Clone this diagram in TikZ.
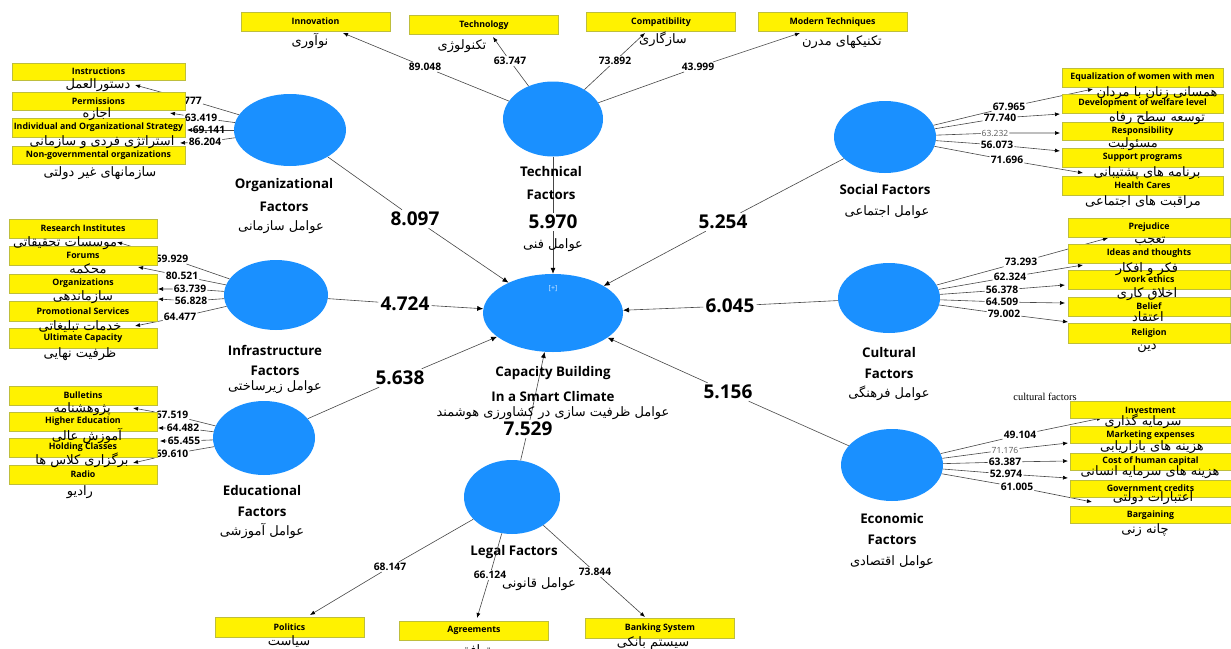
\documentclass[tikz,border=0pt]{standalone}
\usepackage{fontspec}
\setmainfont{Open Sans}
\newfontfamily\arabicfont[Script=Arabic]{DejaVu Sans}
\newfontfamily\serifface{Liberation Serif}
\TeXXeTstate=1
\usetikzlibrary{arrows.meta,shapes.geometric}
\newcommand{\pers}[1]{{\arabicfont\beginR #1\endR}}
\definecolor{facblue}{RGB}{26,144,255}
\definecolor{boxedge}{RGB}{190,190,60}
\definecolor{linegray}{RGB}{70,70,70}
\definecolor{numgray}{RGB}{90,90,90}
\tikzset{
  fac/.style={ellipse, fill=facblue, draw=none, inner sep=0pt},
  ibox/.style={rectangle, fill=yellow, draw=boxedge, line width=0.6pt, minimum width=149pt, minimum height=19pt, inner sep=0pt, font=\bfseries\fontsize{8.8}{10}\selectfont},
  num/.style={font=\bfseries\fontsize{10.3}{12}\selectfont, inner sep=1pt},
  gnum/.style={font=\fontsize{8.5}{10}\selectfont, text=numgray, inner sep=1pt},
  big/.style={font=\bfseries\fontsize{19}{22}\selectfont, inner sep=2pt},
  flab/.style={font=\bfseries\fontsize{13.3}{16}\selectfont, inner sep=0pt},
  fa/.style={font=\fontsize{13}{15}\selectfont, inner sep=0pt},
  conn/.style={draw=linegray, line width=0.6pt, -{Latex[length=5pt,width=4pt,color=black]}},
  main/.style={draw=linegray, line width=0.6pt, -{Latex[length=6pt,width=5pt,color=black]}}
}
\begin{document}
\begin{tikzpicture}[x=1pt,y=-1pt]
\useasboundingbox (0,0) rectangle (1231,648);

% ---------- factor ellipses ----------
\node[fac, minimum width=140pt, minimum height=78pt] (cb) at (553,313) {};
\node[fac, minimum width=100pt, minimum height=75pt] (tech) at (553,119) {};
\node[fac, minimum width=112pt, minimum height=72pt] (org) at (290,130) {};
\node[fac, minimum width=102pt, minimum height=72pt] (soc) at (885,137) {};
\node[fac, minimum width=104pt, minimum height=70pt] (infra) at (276,295) {};
\node[fac, minimum width=102pt, minimum height=70pt] (cult) at (889,298) {};
\node[fac, minimum width=102pt, minimum height=74pt] (edu) at (264,438) {};
\node[fac, minimum width=102pt, minimum height=72pt] (econ) at (892,465) {};
\node[fac, minimum width=96pt, minimum height=74pt] (legal) at (512,497) {};
\node[font=\fontsize{7}{8}\selectfont, text=white!80!facblue] (plus) at (553,289) {[+]};

% ---------- main path coefficients ----------
\node[big] (w1) at (415,219) {8.097};
\node[big] (w2) at (553,222) {5.970};
\node[big] (w3) at (723,222) {5.254};
\node[big] (w4) at (405,304) {4.724};
\node[big] (w5) at (730,306) {6.045};
\node[big] (w6) at (400,378) {5.638};
\node[big] (w7) at (728,392) {5.156};
\node[big] (w8) at (528,429) {7.529};

\draw[main] (org) -- (w1) -- (cb);
\draw[main] (tech) -- (w2) -- (cb);
\draw[main] (soc) -- (w3) -- (cb);
\draw[main] (infra) -- (w4) -- (cb);
\draw[main] (cult) -- (w5) -- (cb);
\draw[main] (edu) -- (w6) -- (cb);
\draw[main] (econ) -- (w7) -- (cb);
\draw[main] (legal) -- (w8) -- (cb);

% ---------- factor labels ----------
\node[flab] (lcb1) at (553,373) {Capacity Building};
\node[flab] (lcb2) at (553,397) {In a Smart Climate};
\node[fa] (lcb3) at (553,413) {\pers{عوامل ظرفیت سازی در کشاورزی هوشمند}};
\node[flab] (ltech1) at (551,172) {Technical};
\node[flab] (ltech2) at (551,195) {Factors};
\node[fa] (ltech3) at (553,245) {\pers{عوامل فنی}};
\node[flab] (lorg1) at (284,185) {Organizational};
\node[flab] (lorg2) at (284,207) {Factors};
\node[fa] (lorg3) at (281,227) {\pers{عوامل سازمانی}};
\node[flab] (lsoc1) at (885,190) {Social Factors};
\node[fa] (lsoc2) at (887,212) {\pers{عوامل اجتماعی}};
\node[flab] (linf1) at (275,350) {Infrastructure};
\node[flab] (linf2) at (275,371) {Factors};
\node[fa] (linf3) at (275,387) {\pers{عوامل زیرساختی}};
\node[flab] (lcul1) at (889,353) {Cultural};
\node[flab] (lcul2) at (889,374) {Factors};
\node[fa] (lcul3) at (889,393) {\pers{عوامل فرهنگی}};
\node[flab] (ledu1) at (262,491) {Educational};
\node[flab] (ledu2) at (262,512) {Factors};
\node[fa] (ledu3) at (262,531) {\pers{عوامل آموزشی}};
\node[flab] (leco1) at (892,519) {Economic};
\node[flab] (leco2) at (892,540) {Factors};
\node[fa] (leco3) at (892,562) {\pers{عوامل اقتصادی}};
\node[flab] (lleg1) at (514,552) {Legal Factors};
\node[fa] (lleg2) at (539,584) {\pers{عوامل قانونی}};

% ---------- technical indicators ----------
\node[num] (n1) at (425,67) {89.048}; \coordinate (t1) at (343,33);
\node[num] (n2) at (510,61) {63.747}; \coordinate (t2) at (493,37);
\node[num] (n3) at (615,61) {73.892}; \coordinate (t3) at (645,33);
\node[num] (n4) at (698,67) {43.999}; \coordinate (t4) at (800,33);
\draw[conn] (tech) -- (n1) -- (t1);
\draw[conn] (tech) -- (n2) -- (t2);
\draw[conn] (tech) -- (n3) -- (t3);
\draw[conn] (tech) -- (n4) -- (t4);

% ---------- organizational indicators ----------
\node[num, anchor=west] (o1) at (183,101) {777}; \coordinate (u1) at (135,85);
\node[num] (o2) at (201,118) {63.419}; \coordinate (u2) at (170,113);
\coordinate (u3) at (187,130);
\node[num] (o4) at (205,142) {86.204}; \coordinate (u4) at (180,143);
\draw[conn] (org) -- (o1) -- (u1);
\draw[conn] (org) -- (o2) -- (u2);
\draw[conn] (org) -- (u3);
\node[num] (o3) at (209,130) {69.141};
\draw[conn] (org) -- (o4) -- (u4);

% ---------- infrastructure indicators ----------
\node[num] (i1) at (172,259) {59.929}; \coordinate (v1) at (117,242);
\node[num] (i2) at (182,276) {80.521}; \coordinate (v2) at (138,267);
\node[num] (i3) at (190,289) {63.739}; \coordinate (v3) at (158,289);
\node[num] (i4) at (191,301) {56.828}; \coordinate (v4) at (158,299);
\node[num] (i5) at (180,317) {64.477}; \coordinate (v5) at (135,326);
\draw[conn] (infra) -- (i1) -- (v1);
\draw[conn] (infra) -- (i2) -- (v2);
\draw[conn] (infra) -- (i3) -- (v3);
\draw[conn] (infra) -- (i4) -- (v4);
\draw[conn] (infra) -- (i5) -- (v5);

% ---------- educational indicators ----------
\node[num] (e1) at (172,415) {67.519}; \coordinate (f1) at (133,408);
\node[num] (e2) at (183,428) {64.482}; \coordinate (f2) at (158,428);
\node[num] (e3) at (184,441) {65.455}; \coordinate (f3) at (160,441);
\node[num] (e4) at (172,454) {69.610}; \coordinate (f4) at (133,463);
\draw[conn] (edu) -- (e1) -- (f1);
\draw[conn] (edu) -- (e2) -- (f2);
\draw[conn] (edu) -- (e3) -- (f3);
\draw[conn] (edu) -- (e4) -- (f4);

% ---------- social indicators ----------
\node[num] (s1) at (1009,107) {67.965}; \coordinate (r1) at (1093,89);
\node[num] (s2) at (1000,118) {77.740}; \coordinate (r2) at (1060,114);
\node[gnum] (s3) at (995,133) {63.232}; \coordinate (r3) at (1060,133);
\node[num] (s4) at (997,145) {56.073}; \coordinate (r4) at (1060,151);
\node[num] (s5) at (1007,160) {71.696}; \coordinate (r5) at (1083,173);
\draw[conn] (soc) -- (s1) -- (r1);
\draw[conn] (soc) -- (s2) -- (r2);
\draw[conn] (soc) -- (s3) -- (r3);
\draw[conn] (soc) -- (s4) -- (r4);
\draw[conn] (soc) -- (s5) -- (r5);

% ---------- cultural indicators ----------
\node[num] (c1) at (1021,262) {73.293}; \coordinate (k1) at (1108,238);
\node[num] (c2) at (1010,277) {62.324}; \coordinate (k2) at (1083,265);
\node[num] (c3) at (1002,290) {56.378}; \coordinate (k3) at (1065,285);
\node[num] (c4) at (1002,302) {64.509}; \coordinate (k4) at (1065,303);
\node[num] (c5) at (1004,314) {79.002}; \coordinate (k5) at (1068,322);
\draw[conn] (cult) -- (c1) -- (k1);
\draw[conn] (cult) -- (c2) -- (k2);
\draw[conn] (cult) -- (c3) -- (k3);
\draw[conn] (cult) -- (c4) -- (k4);
\draw[conn] (cult) -- (c5) -- (k5);

% ---------- economic indicators ----------
\node[num] (x1) at (1020,435) {49.104}; \coordinate (m1) at (1102,418);
\node[gnum] (x2) at (1005,450) {71.176}; \coordinate (m2) at (1068,443);
\node[num] (x3) at (1005,462) {63.387}; \coordinate (m3) at (1068,461);
\node[num] (x4) at (1006,474) {52.974}; \coordinate (m4) at (1068,478);
\node[num] (x5) at (1017,487) {61.005}; \coordinate (m5) at (1092,502);
\draw[conn] (econ) -- (x1) -- (m1);
\draw[conn] (econ) -- (x2) -- (m2);
\draw[conn] (econ) -- (x3) -- (m3);
\draw[conn] (econ) -- (x4) -- (m4);
\draw[conn] (econ) -- (x5) -- (m5);
\node[font=\serifface\fontsize{10.5}{12}\selectfont, inner sep=0pt] (cf) at (1045,397) {cultural factors};

% ---------- legal indicators ----------
\node[num] (g1) at (390,567) {68.147}; \coordinate (h1) at (310,615);
\node[num] (g2) at (490,575) {66.124}; \coordinate (h2) at (477,618);
\node[num] (g3) at (595,572) {73.844}; \coordinate (h3) at (645,617);
\draw[conn] (legal) -- (g1) -- (h1);
\draw[conn] (legal) -- (g2) -- (h2);
\draw[conn] (legal) -- (g3) -- (h3);

% ---------- indicator boxes ----------
\node[ibox] (b1) at (315.5,21.5) {Innovation};
\node[ibox] (b2) at (484,25) {Technology};
\node[ibox] (b3) at (661,22) {Compatibility};
\node[ibox] (b4) at (832.5,22) {Modern Techniques};

\node[ibox, minimum width=173pt, minimum height=17pt] (bo1) at (98.5,71.5) {Instructions};
\node[ibox, minimum width=173pt, minimum height=18pt] (bo2) at (98.5,101) {Permissions};
\node[ibox, minimum width=173pt] (bo3) at (98.5,127.5) {Individual and Organizational Strategy};
\node[ibox, minimum width=173pt, minimum height=18pt] (bo4) at (98.5,155) {Non-governmental organizations};

\node[ibox, minimum width=148pt] (bi1) at (83,228.5) {Research Institutes};
\node[ibox, minimum width=148pt] (bi2) at (83,255.5) {Forums};
\node[ibox, minimum width=148pt] (bi3) at (83,283.5) {Organizations};
\node[ibox, minimum width=148pt, minimum height=20pt] (bi4) at (83,311) {Promotional Services};
\node[ibox, minimum width=148pt, minimum height=20pt] (bi5) at (83,338) {Ultimate Capacity};

\node[ibox, minimum width=148pt] (be1) at (83,395.5) {Bulletins};
\node[ibox, minimum width=148pt] (be2) at (83,421.5) {Higher Education};
\node[ibox, minimum width=148pt] (be3) at (83,447.5) {Holding Classes};
\node[ibox, minimum width=148pt] (be4) at (83,474.5) {Radio};

\node[ibox, minimum width=161pt] (bs1) at (1142.5,77.5) {Equalization of women with men};
\node[ibox, minimum width=161pt] (bs2) at (1142.5,103.5) {Development of welfare level};
\node[ibox, minimum width=161pt, minimum height=18pt] (bs3) at (1142.5,131) {Responsibility};
\node[ibox, minimum width=161pt] (bs4) at (1142.5,157.5) {Support programs};
\node[ibox, minimum width=161pt] (bs5) at (1142.5,185.5) {Health Cares};

\node[ibox, minimum width=162pt] (bc1) at (1149,227.5) {Prejudice};
\node[ibox, minimum width=162pt] (bc2) at (1149,253.5) {Ideas and thoughts};
\node[ibox, minimum width=162pt] (bc3) at (1149,279.5) {work ethics};
\node[ibox, minimum width=162pt] (bc4) at (1149,306.5) {Belief};
\node[ibox, minimum width=162pt, minimum height=20pt] (bc5) at (1149,333) {Religion};

\node[ibox, minimum width=161pt, minimum height=16.5pt] (bx1) at (1150.5,410) {Investment};
\node[ibox, minimum width=161pt, minimum height=16.5pt] (bx2) at (1150.5,435) {Marketing expenses};
\node[ibox, minimum width=161pt, minimum height=17pt] (bx3) at (1150.5,461.5) {Cost of human capital};
\node[ibox, minimum width=161pt, minimum height=17pt] (bx4) at (1150.5,488.5) {Government credits};
\node[ibox, minimum width=161pt, minimum height=16.5pt] (bx5) at (1150.5,515) {Bargaining};

\node[ibox, minimum height=20pt] (bg1) at (289.5,627) {Politics};
\node[ibox, minimum height=19pt] (bg2) at (474,630.5) {Agreements};
\node[ibox, minimum height=20pt] (bg3) at (660,628) {Banking System};

% ---------- Persian indicator names ----------
\node[fa] (p1) at (310,41) {\pers{نوآوری}};
\node[fa] (p2) at (462,46) {\pers{تکنولوژی}};
\node[fa] (p3) at (663,39) {\pers{سازگاری}};
\node[fa] (p4) at (842,42) {\pers{تکنیکهای مدرن}};

\node[fa] (po1) at (98,85) {\pers{دستورالعمل}};
\node[fa] (po2) at (97,114) {\pers{اجازه}};
\node[fa] (po3) at (102,142) {\pers{استراتژی فردی و سازمانی}};
\node[fa] (po4) at (100,173) {\pers{سازمانهای غیر دولتی}};

\node[fa] (pi1) at (65,243) {\pers{موسسات تحقیقاتی}};
\node[fa] (pi2) at (88,269) {\pers{محکمه}};
\node[fa] (pi3) at (83,297) {\pers{سازماندهی}};
\node[fa] (pi4) at (80,327) {\pers{خدمات تبلیغاتی}};
\node[fa] (pi5) at (80,354) {\pers{ظرفیت نهایی}};

\node[fa] (pe1) at (82,409) {\pers{پژوهشنامه}};
\node[fa] (pe2) at (87,436) {\pers{آموزش عالی}};
\node[fa] (pe3) at (82,460) {\pers{برگزاری کلاس ها}};
\node[fa] (pe4) at (80,492) {\pers{رادیو}};

\node[fa] (ps1) at (1157,93) {\pers{همسانی زنان با مردان}};
\node[fa] (ps2) at (1157,118) {\pers{توسعه سطح رفاه}};
\node[fa] (ps3) at (1133,144) {\pers{مسئولیت}};
\node[fa] (ps4) at (1147,173) {\pers{برنامه های پشتیبانی}};
\node[fa] (ps5) at (1143,202) {\pers{مراقبت های اجتماعی}};

\node[fa] (pc1) at (1150,241) {\pers{تعجب}};
\node[fa] (pc2) at (1147,269) {\pers{فکر و افکار}};
\node[fa] (pc3) at (1147,294) {\pers{اخلاق کاری}};
\node[fa] (pc4) at (1148,317) {\pers{اعتقاد}};
\node[fa] (pc5) at (1147,348) {\pers{دین}};

\node[fa] (px1) at (1143,421) {\pers{سرمایه گذاری}};
\node[fa] (px2) at (1152,447) {\pers{هزینه های بازاریابی}};
\node[fa] (px3) at (1150,472) {\pers{هزینه های سرمایه انسانی}};
\node[fa] (px4) at (1153,498) {\pers{اعتبارات دولتی}};
\node[fa] (px5) at (1145,530) {\pers{چانه زنی}};

\node[fa] (pg1) at (289,642) {\pers{سیاست}};
\node[fa] (pg2) at (475,651) {\pers{توافق}};
\node[fa] (pg3) at (653,643) {\pers{سیستم بانکی}};
\end{tikzpicture}
\end{document}
